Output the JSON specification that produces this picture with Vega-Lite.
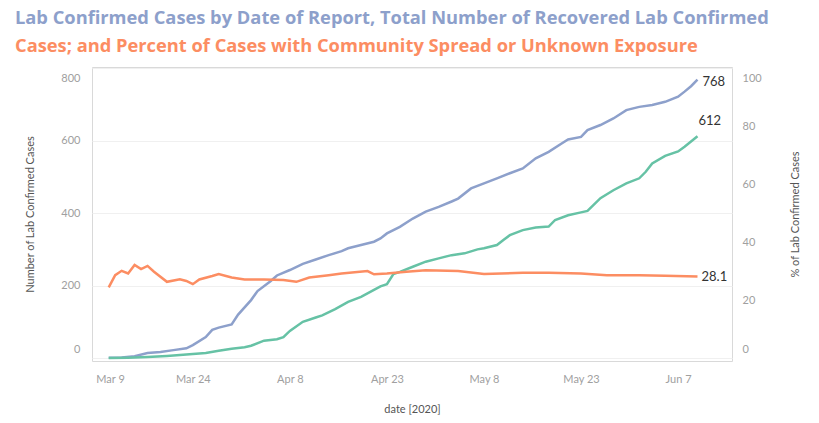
{
  "$schema": "https://vega.github.io/schema/vega-lite/v6.json",
  "width": 640,
  "height": 294,
  "autosize": {"type": "none"},
  "padding": {"left": 92, "top": 67, "right": 87, "bottom": 62},
  "config": {
    "font": "Lato",
    "view": {"stroke": "#d9d9d9", "strokeWidth": 1},
    "axis": {"labelFont": "Lato", "titleFont": "Lato", "labelColor": "#a0a0a0", "titleColor": "#555555", "labelFontSize": 11, "titleFontSize": 11, "titleFontWeight": "normal", "domain": false, "ticks": false}
  },
  "title": {
    "text": "Lab Confirmed Cases by Date of Report, Total Number of Recovered Lab Confirmed",
    "subtitle": "Cases; and Percent of Cases with Community Spread or Unknown Exposure",
    "anchor": "start",
    "frame": "group",
    "dx": -77,
    "offset": 11,
    "font": "Open Sans",
    "fontSize": 18.3,
    "fontWeight": "bold",
    "color": "#8da0cb",
    "subtitleFont": "Open Sans",
    "subtitleFontSize": 18.3,
    "subtitleFontWeight": "bold",
    "subtitleColor": "#fc8d62",
    "subtitlePadding": 9
  },
  "data": {
    "values": [
      {"d": "2020/03/11", "s": "Cases", "v": 1},
      {"d": "2020/03/13", "s": "Cases", "v": 2},
      {"d": "2020/03/15", "s": "Cases", "v": 5},
      {"d": "2020/03/17", "s": "Cases", "v": 14},
      {"d": "2020/03/19", "s": "Cases", "v": 17},
      {"d": "2020/03/21", "s": "Cases", "v": 22},
      {"d": "2020/03/23", "s": "Cases", "v": 27},
      {"d": "2020/03/24", "s": "Cases", "v": 36},
      {"d": "2020/03/26", "s": "Cases", "v": 58},
      {"d": "2020/03/27", "s": "Cases", "v": 78},
      {"d": "2020/03/28", "s": "Cases", "v": 84},
      {"d": "2020/03/30", "s": "Cases", "v": 93},
      {"d": "2020/03/31", "s": "Cases", "v": 120},
      {"d": "2020/04/02", "s": "Cases", "v": 160},
      {"d": "2020/04/03", "s": "Cases", "v": 185},
      {"d": "2020/04/05", "s": "Cases", "v": 212},
      {"d": "2020/04/06", "s": "Cases", "v": 228},
      {"d": "2020/04/08", "s": "Cases", "v": 243},
      {"d": "2020/04/10", "s": "Cases", "v": 260},
      {"d": "2020/04/12", "s": "Cases", "v": 272},
      {"d": "2020/04/14", "s": "Cases", "v": 284},
      {"d": "2020/04/16", "s": "Cases", "v": 295},
      {"d": "2020/04/17", "s": "Cases", "v": 303},
      {"d": "2020/04/19", "s": "Cases", "v": 312},
      {"d": "2020/04/21", "s": "Cases", "v": 321},
      {"d": "2020/04/22", "s": "Cases", "v": 330},
      {"d": "2020/04/23", "s": "Cases", "v": 344},
      {"d": "2020/04/25", "s": "Cases", "v": 362},
      {"d": "2020/04/27", "s": "Cases", "v": 385},
      {"d": "2020/04/29", "s": "Cases", "v": 404},
      {"d": "2020/05/01", "s": "Cases", "v": 417},
      {"d": "2020/05/03", "s": "Cases", "v": 432},
      {"d": "2020/05/04", "s": "Cases", "v": 440},
      {"d": "2020/05/06", "s": "Cases", "v": 468},
      {"d": "2020/05/08", "s": "Cases", "v": 482},
      {"d": "2020/05/10", "s": "Cases", "v": 496},
      {"d": "2020/05/12", "s": "Cases", "v": 510},
      {"d": "2020/05/14", "s": "Cases", "v": 523},
      {"d": "2020/05/16", "s": "Cases", "v": 551},
      {"d": "2020/05/18", "s": "Cases", "v": 569},
      {"d": "2020/05/20", "s": "Cases", "v": 592},
      {"d": "2020/05/21", "s": "Cases", "v": 603},
      {"d": "2020/05/23", "s": "Cases", "v": 610},
      {"d": "2020/05/24", "s": "Cases", "v": 629},
      {"d": "2020/05/26", "s": "Cases", "v": 643},
      {"d": "2020/05/28", "s": "Cases", "v": 661},
      {"d": "2020/05/30", "s": "Cases", "v": 684},
      {"d": "2020/06/01", "s": "Cases", "v": 693},
      {"d": "2020/06/03", "s": "Cases", "v": 698},
      {"d": "2020/06/05", "s": "Cases", "v": 707},
      {"d": "2020/06/07", "s": "Cases", "v": 721},
      {"d": "2020/06/08", "s": "Cases", "v": 735},
      {"d": "2020/06/09", "s": "Cases", "v": 750},
      {"d": "2020/06/10", "s": "Cases", "v": 768},
      {"d": "2020/03/11", "s": "Recovered", "v": 0},
      {"d": "2020/03/14", "s": "Recovered", "v": 1},
      {"d": "2020/03/17", "s": "Recovered", "v": 3},
      {"d": "2020/03/20", "s": "Recovered", "v": 6},
      {"d": "2020/03/23", "s": "Recovered", "v": 10},
      {"d": "2020/03/26", "s": "Recovered", "v": 14},
      {"d": "2020/03/28", "s": "Recovered", "v": 20},
      {"d": "2020/03/30", "s": "Recovered", "v": 26},
      {"d": "2020/04/01", "s": "Recovered", "v": 30},
      {"d": "2020/04/02", "s": "Recovered", "v": 34},
      {"d": "2020/04/04", "s": "Recovered", "v": 48},
      {"d": "2020/04/06", "s": "Recovered", "v": 52},
      {"d": "2020/04/07", "s": "Recovered", "v": 58},
      {"d": "2020/04/08", "s": "Recovered", "v": 75},
      {"d": "2020/04/10", "s": "Recovered", "v": 100},
      {"d": "2020/04/12", "s": "Recovered", "v": 112},
      {"d": "2020/04/13", "s": "Recovered", "v": 118},
      {"d": "2020/04/15", "s": "Recovered", "v": 135},
      {"d": "2020/04/17", "s": "Recovered", "v": 155},
      {"d": "2020/04/19", "s": "Recovered", "v": 169},
      {"d": "2020/04/21", "s": "Recovered", "v": 188},
      {"d": "2020/04/22", "s": "Recovered", "v": 198},
      {"d": "2020/04/23", "s": "Recovered", "v": 204},
      {"d": "2020/04/24", "s": "Recovered", "v": 232},
      {"d": "2020/04/25", "s": "Recovered", "v": 238},
      {"d": "2020/04/27", "s": "Recovered", "v": 252},
      {"d": "2020/04/29", "s": "Recovered", "v": 266},
      {"d": "2020/05/01", "s": "Recovered", "v": 275},
      {"d": "2020/05/03", "s": "Recovered", "v": 284},
      {"d": "2020/05/05", "s": "Recovered", "v": 289},
      {"d": "2020/05/07", "s": "Recovered", "v": 300},
      {"d": "2020/05/08", "s": "Recovered", "v": 303},
      {"d": "2020/05/10", "s": "Recovered", "v": 312},
      {"d": "2020/05/11", "s": "Recovered", "v": 326},
      {"d": "2020/05/12", "s": "Recovered", "v": 339},
      {"d": "2020/05/14", "s": "Recovered", "v": 353},
      {"d": "2020/05/16", "s": "Recovered", "v": 360},
      {"d": "2020/05/18", "s": "Recovered", "v": 363},
      {"d": "2020/05/19", "s": "Recovered", "v": 381},
      {"d": "2020/05/21", "s": "Recovered", "v": 394},
      {"d": "2020/05/23", "s": "Recovered", "v": 402},
      {"d": "2020/05/24", "s": "Recovered", "v": 406},
      {"d": "2020/05/26", "s": "Recovered", "v": 441},
      {"d": "2020/05/28", "s": "Recovered", "v": 463},
      {"d": "2020/05/30", "s": "Recovered", "v": 482},
      {"d": "2020/06/01", "s": "Recovered", "v": 496},
      {"d": "2020/06/02", "s": "Recovered", "v": 514},
      {"d": "2020/06/03", "s": "Recovered", "v": 537},
      {"d": "2020/06/05", "s": "Recovered", "v": 558},
      {"d": "2020/06/07", "s": "Recovered", "v": 570},
      {"d": "2020/06/08", "s": "Recovered", "v": 583},
      {"d": "2020/06/10", "s": "Recovered", "v": 612},
      {"d": "2020/03/11", "s": "Pct", "v": 24.4},
      {"d": "2020/03/12", "s": "Pct", "v": 28.6},
      {"d": "2020/03/13", "s": "Pct", "v": 30.1},
      {"d": "2020/03/14", "s": "Pct", "v": 29.2},
      {"d": "2020/03/15", "s": "Pct", "v": 32.1},
      {"d": "2020/03/16", "s": "Pct", "v": 30.7},
      {"d": "2020/03/17", "s": "Pct", "v": 31.8},
      {"d": "2020/03/18", "s": "Pct", "v": 29.8},
      {"d": "2020/03/20", "s": "Pct", "v": 26.3},
      {"d": "2020/03/22", "s": "Pct", "v": 27.2},
      {"d": "2020/03/23", "s": "Pct", "v": 26.6},
      {"d": "2020/03/24", "s": "Pct", "v": 25.5},
      {"d": "2020/03/25", "s": "Pct", "v": 27.1},
      {"d": "2020/03/27", "s": "Pct", "v": 28.3},
      {"d": "2020/03/28", "s": "Pct", "v": 29.0},
      {"d": "2020/03/30", "s": "Pct", "v": 27.8},
      {"d": "2020/04/01", "s": "Pct", "v": 27.1},
      {"d": "2020/04/04", "s": "Pct", "v": 27.1},
      {"d": "2020/04/07", "s": "Pct", "v": 26.9},
      {"d": "2020/04/09", "s": "Pct", "v": 26.3},
      {"d": "2020/04/11", "s": "Pct", "v": 27.8},
      {"d": "2020/04/14", "s": "Pct", "v": 28.6},
      {"d": "2020/04/16", "s": "Pct", "v": 29.2},
      {"d": "2020/04/20", "s": "Pct", "v": 30.0},
      {"d": "2020/04/21", "s": "Pct", "v": 28.9},
      {"d": "2020/04/23", "s": "Pct", "v": 29.2},
      {"d": "2020/04/26", "s": "Pct", "v": 29.8},
      {"d": "2020/04/29", "s": "Pct", "v": 30.3},
      {"d": "2020/05/04", "s": "Pct", "v": 30.0},
      {"d": "2020/05/08", "s": "Pct", "v": 29.0},
      {"d": "2020/05/14", "s": "Pct", "v": 29.4},
      {"d": "2020/05/18", "s": "Pct", "v": 29.4},
      {"d": "2020/05/23", "s": "Pct", "v": 29.2},
      {"d": "2020/05/27", "s": "Pct", "v": 28.6},
      {"d": "2020/06/01", "s": "Pct", "v": 28.6},
      {"d": "2020/06/05", "s": "Pct", "v": 28.4},
      {"d": "2020/06/10", "s": "Pct", "v": 28.1}
    ]
  },
  "encoding": {
    "x": {
      "field": "d",
      "type": "temporal",
      "title": "date [2020]",
      "scale": {"domain": [{"year": 2020, "month": 3, "date": 8, "hours": 10}, {"year": 2020, "month": 6, "date": 15, "hours": 8}]},
      "axis": {
        "values": [
          {"year": 2020, "month": 3, "date": 9},
          {"year": 2020, "month": 3, "date": 24},
          {"year": 2020, "month": 4, "date": 8},
          {"year": 2020, "month": 4, "date": 23},
          {"year": 2020, "month": 5, "date": 8},
          {"year": 2020, "month": 5, "date": 23},
          {"year": 2020, "month": 6, "date": 7}
        ],
        "format": "%b %-d",
        "grid": false,
        "labelPadding": 12,
        "labelFlush": 10,
        "titlePadding": 19
      }
    }
  },
  "layer": [
    {
      "transform": [{"filter": "datum.s !== 'Pct'"}],
      "encoding": {
        "y": {
          "field": "v",
          "type": "quantitative",
          "title": "Number of Lab Confirmed Cases",
          "scale": {"domain": [-8, 803], "nice": false, "zero": false},
          "axis": {
            "orient": "left",
            "values": [0, 200, 400, 600, 800],
            "grid": true,
            "gridColor": "#f0f0f0",
            "labelPadding": 12,
            "labelFlush": 10,
            "labelFlushOffset": -4,
            "titlePadding": 25
          }
        }
      },
      "layer": [
        {
          "mark": {"type": "line", "strokeWidth": 2.5},
          "encoding": {
            "color": {"field": "s", "type": "nominal", "legend": null, "scale": {"domain": ["Cases", "Recovered"], "range": ["#8da0cb", "#66c2a5"]}}
          }
        },
        {
          "transform": [{"filter": "datum.s === 'Cases'"}, {"filter": {"field": "d", "equal": {"year": 2020, "month": 6, "date": 10}}}],
          "mark": {"type": "text", "align": "left", "baseline": "middle", "dx": 5, "dy": 2, "fontSize": 13, "color": "#333333", "font": "Lato"},
          "encoding": {"text": {"field": "v", "type": "quantitative", "format": "d"}}
        },
        {
          "transform": [{"filter": "datum.s === 'Recovered'"}, {"filter": {"field": "d", "equal": {"year": 2020, "month": 6, "date": 10}}}],
          "mark": {"type": "text", "align": "left", "baseline": "middle", "dx": 1, "dy": -15, "fontSize": 13, "color": "#333333", "font": "Lato"},
          "encoding": {"text": {"field": "v", "type": "quantitative", "format": "d"}}
        }
      ]
    },
    {
      "transform": [{"filter": "datum.s === 'Pct'"}],
      "encoding": {
        "y": {
          "field": "v",
          "type": "quantitative",
          "title": "% of Lab Confirmed Cases",
          "scale": {"domain": [-1, 100.375], "nice": false, "zero": false},
          "axis": {
            "orient": "right",
            "values": [0, 20, 40, 60, 80, 100],
            "grid": false,
            "labelPadding": 10,
            "labelFlush": 10,
            "labelFlushOffset": -4,
            "titleAngle": 270,
            "titlePadding": 39
          }
        }
      },
      "layer": [
        {"mark": {"type": "line", "strokeWidth": 2.5, "color": "#fc8d62"}},
        {
          "transform": [{"filter": {"field": "d", "equal": {"year": 2020, "month": 6, "date": 10}}}],
          "mark": {"type": "text", "align": "left", "baseline": "middle", "dx": 4, "fontSize": 13, "color": "#333333", "font": "Lato"},
          "encoding": {"text": {"field": "v", "type": "quantitative", "format": ".1f"}}
        }
      ]
    }
  ],
  "resolve": {"scale": {"y": "independent"}}
}
